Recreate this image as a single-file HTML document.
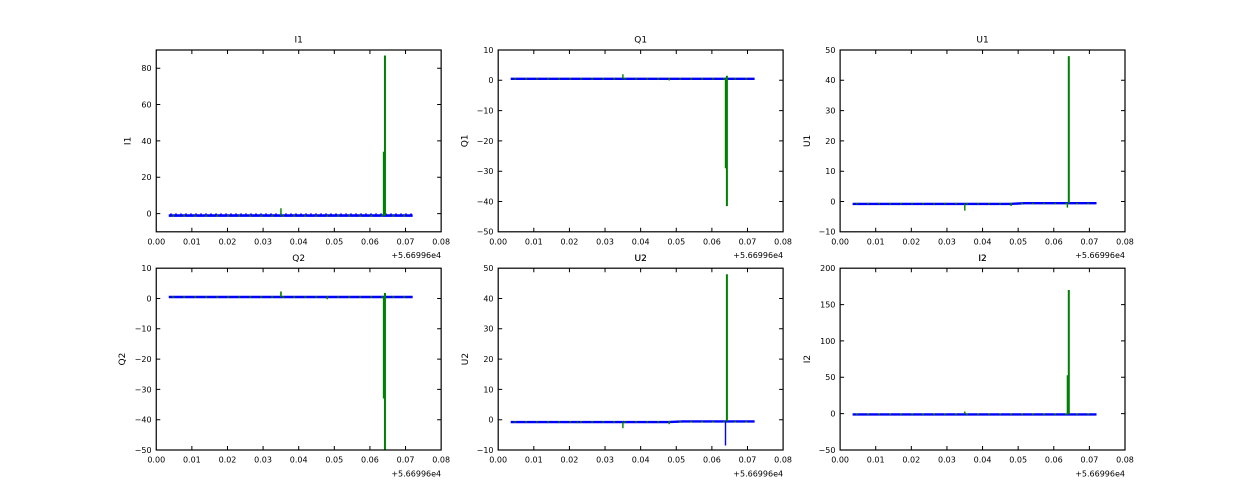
<!DOCTYPE html>
<html><head><meta charset="utf-8"><style>
html,body{margin:0;padding:0;background:#fff;}
svg{display:block;}
text{font-family:"DejaVu Sans","Liberation Sans",sans-serif;fill:#000;}
.tk{font-size:8px;}
.tt{font-size:9px;}
</style></head><body>
<svg width="1250" height="500" viewBox="0 0 1250 500" xmlns="http://www.w3.org/2000/svg">
<defs>
<clipPath id="c"><rect x="0" y="0" width="284.9" height="181.8"/></clipPath>
<g id="xt">
<path d="M35.61 0v4M71.23 0v4M106.84 0v4M142.45 0v4M178.06 0v4M213.68 0v4M249.29 0v4M35.61 181.8v-4M71.23 181.8v-4M106.84 181.8v-4M142.45 181.8v-4M178.06 181.8v-4M213.68 181.8v-4M249.29 181.8v-4" stroke="#000" stroke-width="1" fill="none"/>
<g class="tk" text-anchor="middle">
<text x="0" y="194.3">0.00</text><text x="35.61" y="194.3">0.01</text><text x="71.23" y="194.3">0.02</text><text x="106.84" y="194.3">0.03</text><text x="142.45" y="194.3">0.04</text><text x="178.06" y="194.3">0.05</text><text x="213.68" y="194.3">0.06</text><text x="249.29" y="194.3">0.07</text><text x="284.9" y="194.3">0.08</text>
</g>
<text class="tk" x="284.9" y="208.2" text-anchor="end">+5.66996e4</text>
</g>
<g id="qy">
<path d="M0 30.3h4M0 60.6h4M0 90.9h4M0 121.2h4M0 151.5h4M284.9 30.3h-4M284.9 60.6h-4M284.9 90.9h-4M284.9 121.2h-4M284.9 151.5h-4" stroke="#000" stroke-width="1"/>
<g class="tk" text-anchor="end">
<text x="-4.7" y="2.9">10</text><text x="-4.7" y="33.2">0</text><text x="-4.7" y="63.5">−10</text><text x="-4.7" y="93.8">−20</text><text x="-4.7" y="124.1">−30</text><text x="-4.7" y="154.4">−40</text><text x="-4.7" y="184.7">−50</text>
</g>
</g>
<g id="uy">
<path d="M0 30.3h4M0 60.6h4M0 90.9h4M0 121.2h4M0 151.5h4M284.9 30.3h-4M284.9 60.6h-4M284.9 90.9h-4M284.9 121.2h-4M284.9 151.5h-4" stroke="#000" stroke-width="1"/>
<g class="tk" text-anchor="end">
<text x="-4.7" y="2.9">50</text><text x="-4.7" y="33.2">40</text><text x="-4.7" y="63.5">30</text><text x="-4.7" y="93.8">20</text><text x="-4.7" y="124.1">10</text><text x="-4.7" y="154.4">0</text><text x="-4.7" y="184.7">−10</text>
</g>
</g>
</defs>

<!-- I1 -->
<g transform="translate(156.25,50)">
<g clip-path="url(#c)">
<path d="M12.5 165.6H256.4" stroke="#0000ff" stroke-width="2.6"/>
<path d="M14 164H256" stroke="#0000ff" stroke-width="1.2" stroke-dasharray="1.5 3.5"/>
<path d="M16 165.8H250" stroke="#008000" stroke-width="1.4" stroke-dasharray="2 9"/>
<path d="M228.7 165.6V5.5" stroke="#008000" stroke-width="2"/>
<path d="M227.3 165.6V101.8" stroke="#008000" stroke-width="1.4"/>
<path d="M124.7 165.6V158.2" stroke="#008000" stroke-width="1.4"/>
</g>
<rect x="0" y="0" width="284.9" height="181.8" fill="none" stroke="#000" stroke-width="1.2"/>
<use href="#xt"/>
<path d="M0 18.2h4M0 54.5h4M0 90.9h4M0 127.3h4M0 163.6h4M284.9 18.2h-4M284.9 54.5h-4M284.9 90.9h-4M284.9 127.3h-4M284.9 163.6h-4" stroke="#000" stroke-width="1"/>
<g class="tk" text-anchor="end">
<text x="-4.7" y="21.1">80</text><text x="-4.7" y="57.4">60</text><text x="-4.7" y="93.8">40</text><text x="-4.7" y="130.2">20</text><text x="-4.7" y="166.5">0</text>
</g>
<text class="tt" x="142.45" y="-7.3" text-anchor="middle">I1</text>
<text class="tt" transform="translate(-26,90.9) rotate(-90)" text-anchor="middle">I1</text>
<text class="tt" x="142.45" y="211" text-anchor="middle">Q2</text>
</g>

<!-- Q1 -->
<g transform="translate(498.2,50)">
<g clip-path="url(#c)">
<path d="M12.5 28.8H256.4" stroke="#0000ff" stroke-width="2.4"/>
<path d="M16 28.8H250" stroke="#008000" stroke-width="1.4" stroke-dasharray="2 9"/>
<path d="M228.7 25.8V156.1" stroke="#008000" stroke-width="2"/>
<path d="M227.3 28.8V118.2" stroke="#008000" stroke-width="1.4"/>
<path d="M124.7 24.2V28.8" stroke="#008000" stroke-width="1.4"/>
<path d="M171 28.8V30.5" stroke="#008000" stroke-width="1.4"/>
</g>
<rect x="0" y="0" width="284.9" height="181.8" fill="none" stroke="#000" stroke-width="1.2"/>
<use href="#xt"/>
<use href="#qy"/>
<text class="tt" x="142.45" y="-7.3" text-anchor="middle">Q1</text>
<text class="tt" transform="translate(-30.9,90.9) rotate(-90)" text-anchor="middle">Q1</text>
<text class="tt" x="142.45" y="211" text-anchor="middle">U2</text>
</g>

<!-- U1 -->
<g transform="translate(840.1,50)">
<g clip-path="url(#c)">
<path d="M12.5 153.9H170L185 153.2H256.4" stroke="#0000ff" stroke-width="2.4" fill="none"/>
<path d="M16 153.6H250" stroke="#008000" stroke-width="1.4" stroke-dasharray="2 9"/>
<path d="M228.7 153V6.1" stroke="#008000" stroke-width="2"/>
<path d="M227.3 153V157.6" stroke="#008000" stroke-width="1.4"/>
<path d="M124.7 153.5V160.6" stroke="#008000" stroke-width="1.4"/>
<path d="M171 153.5V156" stroke="#008000" stroke-width="1.4"/>
</g>
<rect x="0" y="0" width="284.9" height="181.8" fill="none" stroke="#000" stroke-width="1.2"/>
<use href="#xt"/>
<use href="#uy"/>
<text class="tt" x="142.45" y="-7.3" text-anchor="middle">U1</text>
<text class="tt" transform="translate(-30.3,90.9) rotate(-90)" text-anchor="middle">U1</text>
<text class="tt" x="142.45" y="211" text-anchor="middle">I2</text>
</g>

<!-- Q2 -->
<g transform="translate(156.25,268.2)">
<g clip-path="url(#c)">
<path d="M12.5 28.8H256.4" stroke="#0000ff" stroke-width="2.4"/>
<path d="M16 28.8H250" stroke="#008000" stroke-width="1.4" stroke-dasharray="2 9"/>
<path d="M228.7 24.8V182" stroke="#008000" stroke-width="2"/>
<path d="M227.3 28.8V130.3" stroke="#008000" stroke-width="1.4"/>
<path d="M124.7 23.3V28.8" stroke="#008000" stroke-width="1.6"/>
<path d="M171 28.8V31" stroke="#008000" stroke-width="1.4"/>
</g>
<rect x="0" y="0" width="284.9" height="181.8" fill="none" stroke="#000" stroke-width="1.2"/>
<use href="#xt"/>
<use href="#qy"/>
<text class="tt" transform="translate(-31.4,90.9) rotate(-90)" text-anchor="middle">Q2</text>
</g>

<!-- U2 -->
<g transform="translate(498.2,268.2)">
<g clip-path="url(#c)">
<path d="M12.5 153.9H170L185 153.2H256.4" stroke="#0000ff" stroke-width="2.4" fill="none"/>
<path d="M16 153.6H250" stroke="#008000" stroke-width="1.4" stroke-dasharray="2 9"/>
<path d="M228.7 153V6.1" stroke="#008000" stroke-width="2"/>
<path d="M227.3 153V177.3" stroke="#0000ff" stroke-width="1.4"/>
<path d="M124.7 153.5V160" stroke="#008000" stroke-width="1.4"/>
<path d="M171 153.5V156" stroke="#008000" stroke-width="1.4"/>
<path d="M79.1 153.5V155" stroke="#008000" stroke-width="1.4"/>
</g>
<rect x="0" y="0" width="284.9" height="181.8" fill="none" stroke="#000" stroke-width="1.2"/>
<use href="#xt"/>
<use href="#uy"/>
<text class="tt" x="142.45" y="-7.3" text-anchor="middle">U2</text>
<text class="tt" transform="translate(-30.4,90.9) rotate(-90)" text-anchor="middle">U2</text>
</g>

<!-- I2 -->
<g transform="translate(840.1,268.2)">
<g clip-path="url(#c)">
<path d="M12.5 146.2H256.4" stroke="#0000ff" stroke-width="2.4"/>
<path d="M16 146H250" stroke="#008000" stroke-width="1.4" stroke-dasharray="2 9"/>
<path d="M228.7 146V21.8" stroke="#008000" stroke-width="2"/>
<path d="M227.3 146V107" stroke="#008000" stroke-width="1.4"/>
<path d="M124.7 146V143.3" stroke="#008000" stroke-width="1.4"/>
</g>
<rect x="0" y="0" width="284.9" height="181.8" fill="none" stroke="#000" stroke-width="1.2"/>
<use href="#xt"/>
<path d="M0 36.4h4M0 72.7h4M0 109.1h4M0 145.4h4M284.9 36.4h-4M284.9 72.7h-4M284.9 109.1h-4M284.9 145.4h-4" stroke="#000" stroke-width="1"/>
<g class="tk" text-anchor="end">
<text x="-4.7" y="2.9">200</text><text x="-4.7" y="39.3">150</text><text x="-4.7" y="75.6">100</text><text x="-4.7" y="112">50</text><text x="-4.7" y="148.3">0</text><text x="-4.7" y="184.7">−50</text>
</g>
<text class="tt" x="142.45" y="-7.3" text-anchor="middle">I2</text>
<text class="tt" transform="translate(-30.3,90.9) rotate(-90)" text-anchor="middle">I2</text>
</g>
</svg>
</body></html>
